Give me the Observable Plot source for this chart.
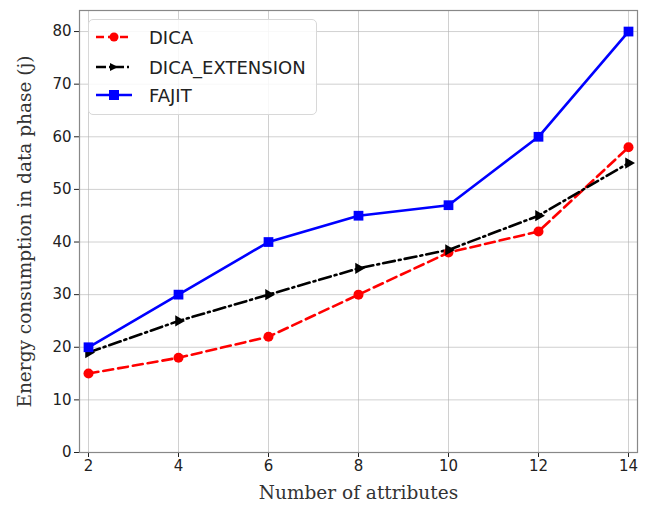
<!DOCTYPE html>
<html>
<head>
<meta charset="utf-8">
<script src="https://cdn.jsdelivr.net/npm/d3@7"></script>
<script src="https://cdn.jsdelivr.net/npm/@observablehq/plot@0.6"></script>
<style>
  html, body { margin: 0; padding: 0; background: #fff; }
  #wrap { position: relative; width: 648px; height: 510px; }
  #wrap svg g[aria-label="y-axis label"] text, #wrap svg g[aria-label="x-axis label"] text { font-family: "DejaVu Serif", serif; font-size: 18.5px; fill: #333; }
  .legend { position: absolute; left: 88px; top: 19px; width: 229px; height: 96px; border: 1px solid #d8d8d8; border-radius: 5px; background: rgba(255,255,255,0.85); box-sizing: border-box; font-family: "DejaVu Sans", sans-serif; font-size: 18px; color: #222; }
  .legend .row { position: absolute; left: 6px; height: 20px; display: flex; align-items: center; }
  .legend .row span { margin-left: 14px; }
</style>
</head>
<body>
<div id="wrap"></div>
<script>
const attributes = [2, 4, 6, 8, 10, 12, 14];
const dica = [15, 18, 22, 30, 38, 42, 58];
const dicaExtension = [19, 25, 30, 35, 38.5, 45, 55];
const fajit = [20, 30, 40, 45, 47, 60, 80];
const seriesNames = ["DICA", "DICA_EXTENSION", "FAJIT"];
const yTicks = [0, 10, 20, 30, 40, 50, 60, 70, 80];
const xTicks = [2, 4, 6, 8, 10, 12, 14];

const toRows = (vals) => attributes.map((a, i) => ({x: a, y: vals[i]}));
const dDica = toRows(dica), dExt = toRows(dicaExtension), dFajit = toRows(fajit);

const chart = Plot.plot({
  width: 648,
  height: 510,
  marginLeft: 79,
  marginRight: 11,
  marginTop: 10,
  marginBottom: 58,
  style: {fontFamily: "DejaVu Sans, sans-serif", fontSize: "15px", color: "#222"},
  x: {domain: [1.8, 14.2]},
  y: {domain: [0, 84]},
  marks: [
    Plot.gridX(xTicks, {stroke: "#b0b0b0", strokeOpacity: 0.6, strokeWidth: 1}),
    Plot.gridY(yTicks, {stroke: "#b0b0b0", strokeOpacity: 0.6, strokeWidth: 1}),
    Plot.axisX({ticks: xTicks, tickSize: 5, tickPadding: 3, fontSize: 15, label: "Number of attributes", labelAnchor: "center", labelArrow: "none", labelOffset: 46}),
    Plot.axisY({ticks: yTicks, tickSize: 5, tickPadding: 3, fontSize: 15, label: "Energy consumption in data phase (j)", labelAnchor: "center", labelArrow: "none", labelOffset: 62}),
    Plot.frame({stroke: "#888", strokeWidth: 1.2}),
    Plot.line(dDica, {x: "x", y: "y", stroke: "#ff0000", strokeWidth: 2.6, strokeDasharray: "10,5"}),
    Plot.line(dExt, {x: "x", y: "y", stroke: "#000", strokeWidth: 2.6, strokeDasharray: "12,4,2,4"}),
    Plot.line(dFajit, {x: "x", y: "y", stroke: "#0000ff", strokeWidth: 2.6}),
    Plot.dot(dDica, {x: "x", y: "y", r: 5, fill: "#ff0000", symbol: "circle"}),
    Plot.dot(dExt, {x: "x", y: "y", r: 4.2, fill: "#000", symbol: "triangle", rotate: 90}),
    Plot.dot(dFajit, {x: "x", y: "y", r: 5.5, fill: "#0000ff", symbol: "square"})
  ]
});
const wrap = document.getElementById("wrap");
wrap.appendChild(chart);

const legend = document.createElement("div");
legend.className = "legend";
const styles = [
  {color: "#ff0000", dash: "8,4", marker: '<circle cx="19" cy="10" r="4.5" fill="#ff0000"/>'},
  {color: "#000", dash: "10,3,2,3", marker: '<path d="M15,6 L23,10 L15,14 Z" fill="#000"/>'},
  {color: "#0000ff", dash: "", marker: '<rect x="14" y="5" width="10" height="10" fill="#0000ff"/>'}
];
const tops = [7, 37, 65];
seriesNames.forEach((name, i) => {
  const s = styles[i];
  const row = document.createElement("div");
  row.className = "row";
  row.style.top = tops[i] + "px";
  row.innerHTML = `<svg width="40" height="20"><line x1="1" y1="10" x2="37" y2="10" stroke="${s.color}" stroke-width="2.6" ${s.dash ? `stroke-dasharray="${s.dash}"` : ""}/>${s.marker}</svg><span>${name}</span>`;
  legend.appendChild(row);
});
wrap.appendChild(legend);
</script>
</body>
</html>
